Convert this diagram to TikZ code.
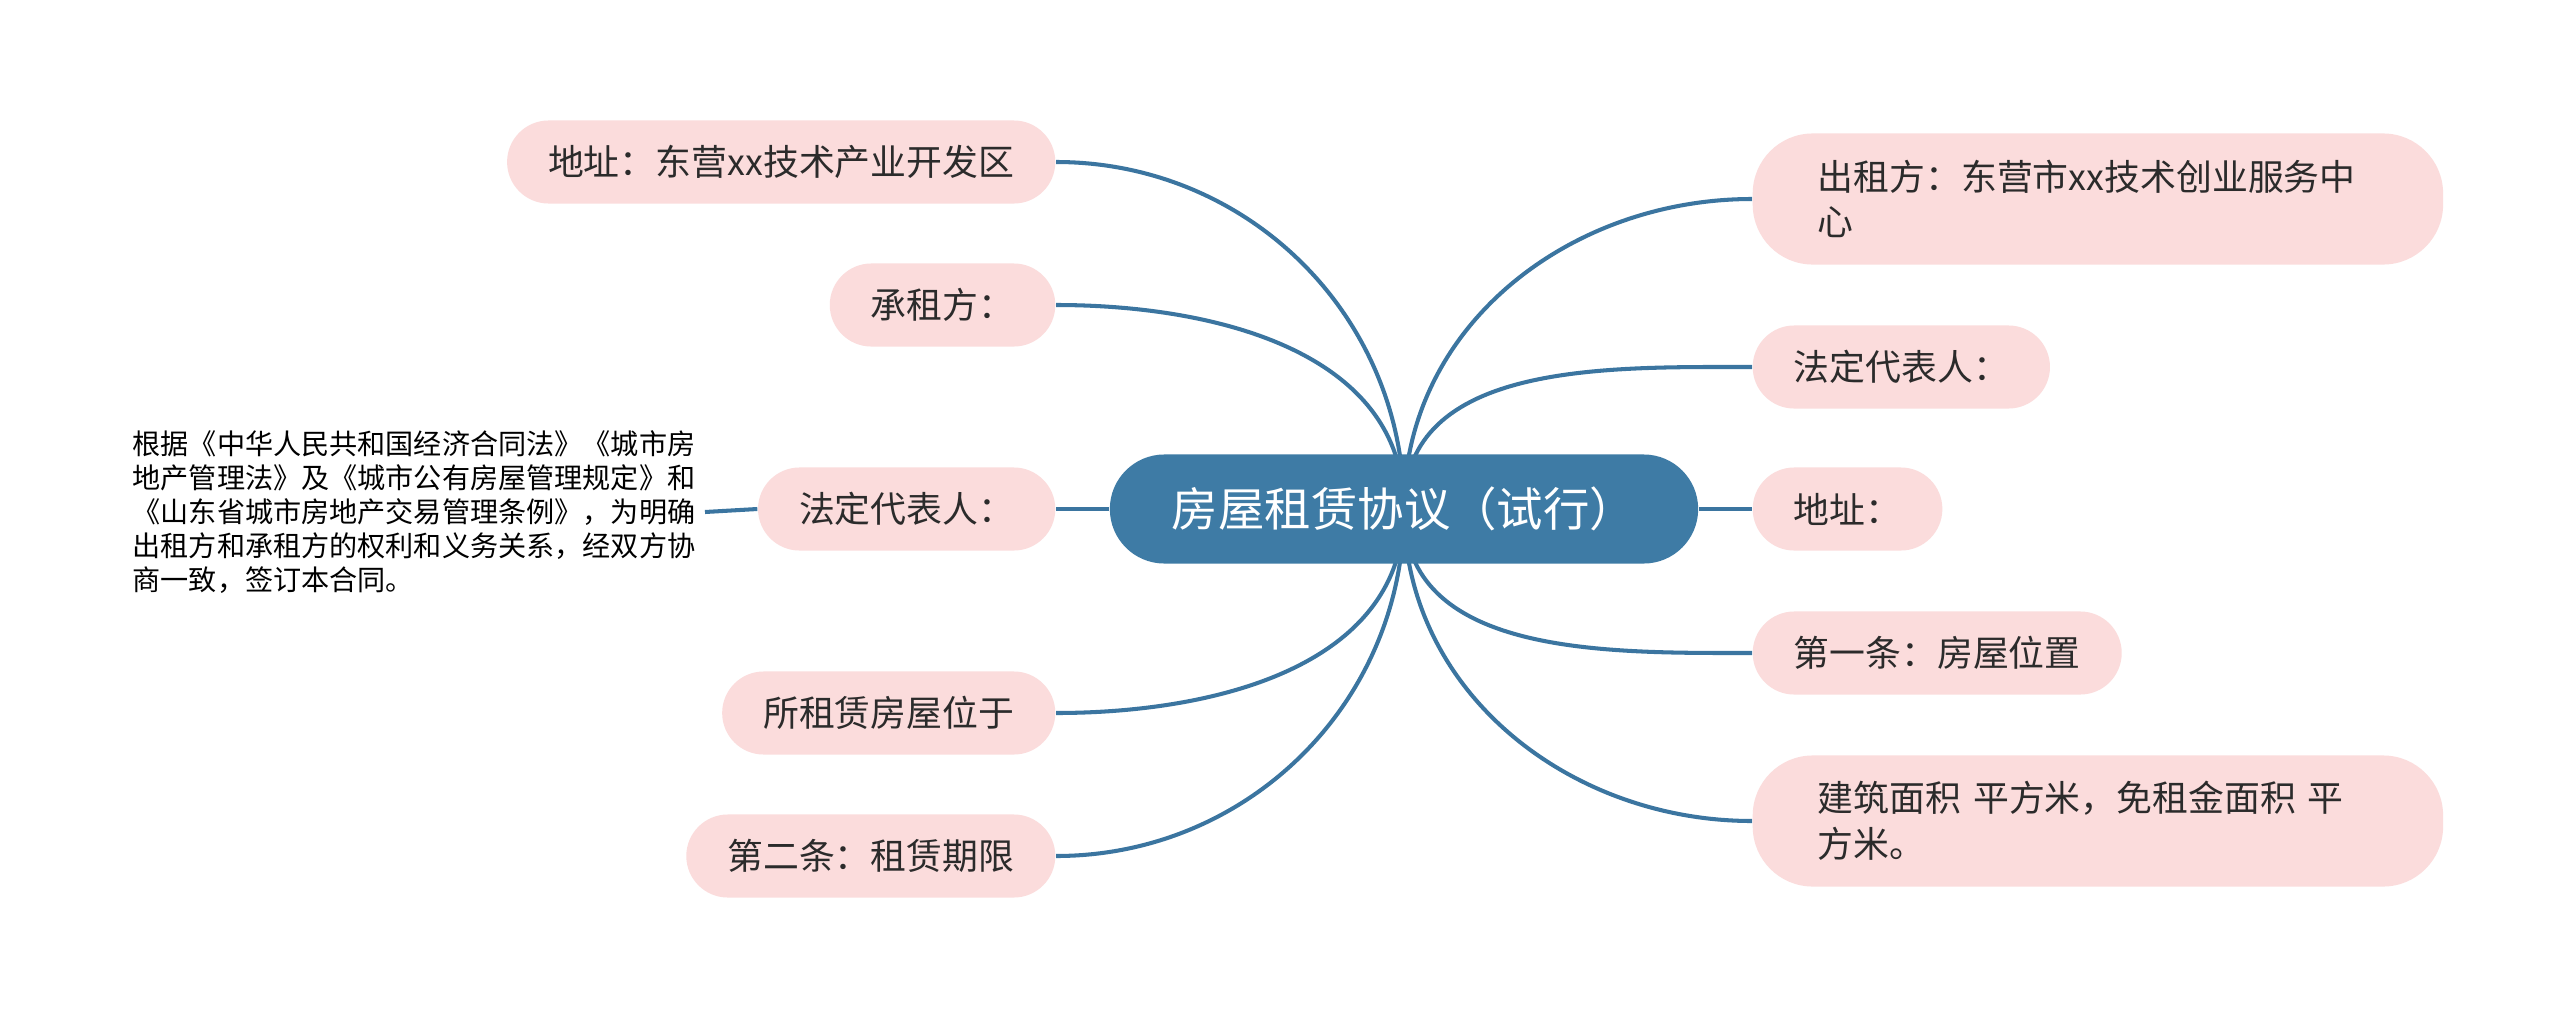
\documentclass[tikz,border=0pt]{standalone}
\usepackage{fontspec}
\setmainfont{Noto Sans CJK SC}
\usetikzlibrary{backgrounds}
\definecolor{petal}{HTML}{FBDCDC}
\definecolor{steel}{HTML}{3E7BA5}
\definecolor{wire}{HTML}{3B75A0}
\definecolor{ink}{HTML}{2B2B2B}
\newcommand{\leaffont}{\fontsize{10.2}{13}\selectfont}

\begin{document}
\begin{tikzpicture}[x=0.01cm,y=-0.01cm,
  leaf/.style={fill=petal,rounded corners=0.415cm,minimum height=0.83cm,
    inner xsep=0.41cm,inner ysep=0.15cm,font=\leaffont,text=ink},
  wideleaf/.style={leaf,text width=5.6cm,align=left,inner xsep=0.65cm,
    minimum height=1.31cm,rounded corners=0.6cm},
  twig/.style={wire,line width=1.15pt}]
  \useasboundingbox (0,0) rectangle (2560,1021);
  % centre
  \node[fill=steel,text=white,rounded corners=0.545cm,minimum width=5.88cm,
    minimum height=1.09cm,font=\fontsize{13.2}{15}\selectfont] (root) at (1404,509)
    {房屋租赁协议（试行）};
  % left side
  \foreach \n/\y/\txt in {
    1/162/{地址：东营xx技术产业开发区},
    2/305/{承租方：},
    3/509/{法定代表人：},
    4/713/{所租赁房屋位于},
    5/856/{第二条：租赁期限}}
  {
    \node[leaf,anchor=east] (l\n) at (1056,\y) {\txt};
  }
  \node[anchor=east,inner xsep=0.09cm,inner ysep=0pt,align=left,text=black,
    font=\fontsize{8}{9.7}\selectfont] (para) at (705,512)
    {根据《中华人民共和国经济合同法》《城市房\\
     地产管理法》及《城市公有房屋管理规定》和\\
     《山东省城市房地产交易管理条例》，为明确\\
     出租方和承租方的权利和义务关系，经双方协\\
     商一致，签订本合同。};
  % right side
  \node[wideleaf,anchor=west] (r1) at (1752,199)
    {出租方：东营市xx技术创业服务中\\心};
  \node[leaf,anchor=west] (r2) at (1752,367) {法定代表人：};
  \node[leaf,anchor=west] (r3) at (1752,509) {地址：};
  \node[leaf,anchor=west] (r4) at (1752,653) {第一条：房屋位置};
  \node[wideleaf,anchor=west] (r5) at (1752,821)
    {建筑面积 平方米，免租金面积 平\\方米。};
  % connectors
  \begin{scope}[on background layer]
    \fill[white] (0,0) rectangle (2560,1021);
    \foreach \n in {1,2}
      \draw[twig] (root.center) to[out=90,in=0] (l\n.east);
    \foreach \n in {4,5}
      \draw[twig] (root.center) to[out=-90,in=0] (l\n.east);
    \foreach \n in {1,2}
      \draw[twig] (root.center) to[out=90,in=180] (r\n.west);
    \foreach \n in {4,5}
      \draw[twig] (root.center) to[out=-90,in=180] (r\n.west);
    \draw[twig] (root.west) -- (l3.east);
    \draw[twig] (root.east) -- (r3.west);
    \draw[twig] (l3.west) -- (para.east);
  \end{scope}
\end{tikzpicture}
\end{document}
